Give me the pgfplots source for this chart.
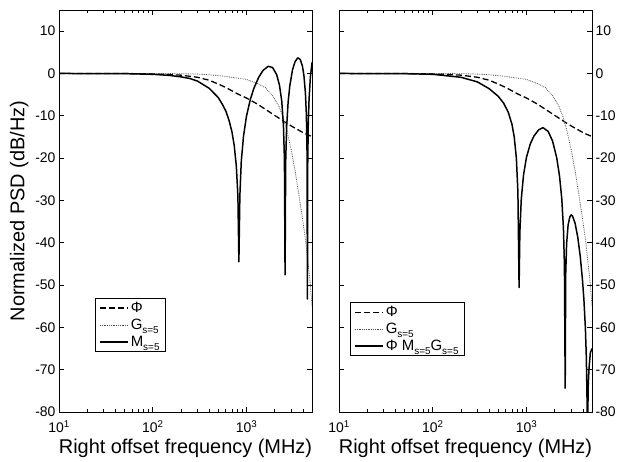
\documentclass[border=0pt]{standalone}
\usepackage{fontspec}
\setmainfont{Liberation Sans}
\usepackage{pgfplots}
\pgfplotsset{compat=1.18}

\tikzset{
  philine/.style={black, line width=1.3pt, dash pattern=on 6bp off 3bp},
  gline/.style={black!70, line width=0.8pt, densely dotted},
  mline/.style={black, line width=1.5pt, line join=round},
}
\pgfplotsset{
  legend image code/.code={\draw[#1] (0bp,0bp) -- (28bp,0bp);},
}
\newcommand{\sub}[1]{\raisebox{-0.5ex}{\fontsize{10}{10}\selectfont #1}}

\begin{document}
\begin{tikzpicture}
  \path (-59bp,-46bp) rectangle (576bp,412bp);

  % left panel
  \begin{axis}[
      xmode=log, xmin=10, xmax=5000, ymin=-80, ymax=15,
      width=253bp, height=402bp, scale only axis,
      xtick={10,100,1000},
      xticklabels={10\textsuperscript{1},10\textsuperscript{2},10\textsuperscript{3}},
      minor xtick={20,30,40,50,60,70,80,90,200,300,400,500,600,700,800,900,2000,3000,4000},
      ytick={-80,-70,-60,-50,-40,-30,-20,-10,0,10},
      yticklabels={-80,-70,-60,-50,-40,-30,-20,-10,0,10},
      tick align=inside, major tick length=5bp, minor tick length=3bp,
      tick style={black, line width=0.6pt},
      axis line style={line width=0.8pt},
      ticklabel style={font=\fontsize{14}{16}\selectfont},
      xticklabel style={yshift=-5bp},
      label style={font=\fontsize{20}{22}\selectfont},
      xlabel={Right offset frequency (MHz)},
      ylabel={Normalized PSD (dB/Hz)},
      legend style={font=\fontsize{15}{17}\selectfont, draw=black, line width=0.8pt,
        inner xsep=4pt, inner ysep=2pt, row sep=1pt,
        at={(0.142,0.284)}, anchor=north west},
      legend cell align=left,
    ]
    \addplot[philine] coordinates {
      (10,0) (50,-0.02) (100,-0.1) (200,-0.4) (300,-0.9) (400,-1.6) (500,-2.5)
      (600,-3.3) (700,-4.1) (800,-4.8) (1000,-5.8) (1300,-7.2) (1650,-8.7)
      (2000,-9.9) (2500,-11.3) (3000,-12.4) (3600,-13.4) (4200,-14.2) (5000,-14.9)
    };
    \addlegendentry{Φ}
    \addplot[gline] coordinates {
      (10,0) (100,-0.01) (200,-0.05) (300,-0.15) (400,-0.3) (550,-0.6) (700,-0.9)
      (1000,-1.4) (1350,-2.5) (1600,-3.4) (1900,-5.3) (2200,-7.6) (2450,-10.2)
      (2700,-13.5) (3000,-18) (3300,-23) (3700,-30) (4000,-35) (4300,-40)
      (4600,-46) (4800,-50) (5000,-55)
    };
    \addlegendentry{G\sub{s=5}}
    \addplot[mline] coordinates {
      (10,0) (50,-0.04) (100,-0.2) (150,-0.45) (200,-0.8) (250,-1.2) (300,-1.8)
      (400,-3.5) (500,-5.7) (550,-7.2) (600,-8.8) (650,-11) (700,-13.8) (740,-17)
      (780,-22) (810,-29) (830,-44.5) (850,-28.9) (880,-20.8) (930,-14.8)
      (1000,-10.1) (1100,-6.1) (1200,-3.5) (1350,-0.9) (1500,0.7) (1705,1.7)
      (1900,1.4) (2100,-0.3) (2250,-2.8) (2380,-6.6) (2480,-12.4) (2540,-20.3)
      (2580,-47.6) (2620,-20.8) (2680,-12.8) (2780,-6.8) (2900,-2.9) (3100,0.9)
      (3300,2.8) (3525,3.7) (3750,3.3) (3950,1.8) (4100,-0.5) (4250,-4.5)
      (4350,-9.5) (4420,-16.9) (4470,-53.3) (4500,-21.8) (4560,-12.2)
      (4650,-6.2) (4800,-1.0) (5000,2.6)
    };
    \addlegendentry{M\sub{s=5}}
  \end{axis}

  % right panel
  \begin{axis}[
      at={(280bp,0bp)},
      xmode=log, xmin=10, xmax=5000, ymin=-80, ymax=15,
      width=253bp, height=402bp, scale only axis,
      xtick={10,100,1000},
      xticklabels={10\textsuperscript{1},10\textsuperscript{2},10\textsuperscript{3}},
      minor xtick={20,30,40,50,60,70,80,90,200,300,400,500,600,700,800,900,2000,3000,4000},
      ytick={-80,-70,-60,-50,-40,-30,-20,-10,0,10},
      yticklabels={-80,-70,-60,-50,-40,-30,-20,-10,0,10},
      yticklabel pos=right,
      tick align=inside, major tick length=5bp, minor tick length=3bp,
      tick style={black, line width=0.6pt},
      axis line style={line width=0.8pt},
      ticklabel style={font=\fontsize{14}{16}\selectfont},
      xticklabel style={yshift=-5bp},
      label style={font=\fontsize{20}{22}\selectfont},
      xlabel={Right offset frequency (MHz)},
      legend style={font=\fontsize{15}{17}\selectfont, draw=black, line width=0.8pt,
        inner xsep=4pt, inner ysep=2pt, row sep=1pt,
        at={(0.043,0.274)}, anchor=north west},
      legend cell align=left,
    ]
    \addplot[philine] coordinates {
      (10,0) (50,-0.02) (100,-0.1) (200,-0.4) (300,-0.9) (400,-1.6) (500,-2.5)
      (600,-3.3) (700,-4.1) (800,-4.8) (1000,-5.8) (1300,-7.2) (1650,-8.7)
      (2000,-9.9) (2500,-11.3) (3000,-12.4) (3600,-13.4) (4200,-14.2) (5000,-14.9)
    };
    \addlegendentry{Φ}
    \addplot[gline] coordinates {
      (10,0) (100,-0.01) (200,-0.05) (300,-0.15) (400,-0.3) (550,-0.6) (700,-0.9)
      (1000,-1.4) (1350,-2.5) (1600,-3.4) (1900,-5.3) (2200,-7.6) (2450,-10.2)
      (2700,-13.5) (3000,-18) (3300,-23) (3700,-30) (4000,-35) (4300,-40)
      (4600,-46) (4800,-50) (5000,-55)
    };
    \addlegendentry{G\sub{s=5}}
    \addplot[mline] coordinates {
      (10,0) (50,-0.05) (100,-0.2) (200,-0.9) (300,-2.0) (400,-3.6) (500,-5.4)
      (570,-7.0) (640,-9.2) (700,-12) (740,-15) (780,-20) (810,-28) (834,-50.6)
      (850,-37.5) (880,-29.7) (930,-24) (1000,-19.8) (1100,-16.6) (1200,-14.8)
      (1350,-13.3) (1500,-12.8) (1705,-13.7) (1900,-16.0) (2100,-19.9)
      (2250,-24.2) (2380,-29.6) (2480,-36.7) (2540,-45.4) (2588,-74.4)
      (2620,-47.5) (2680,-40.2) (2780,-35.8) (2900,-33.9) (3000,-33.4)
      (3100,-33.7) (3300,-35.4) (3525,-38.7) (3750,-43.3) (3950,-48.6)
      (4100,-53.5) (4250,-60.2) (4350,-67.1) (4420,-76) (4470,-95) (4500,-81.8)
      (4560,-73.6) (4650,-69.6) (4800,-66) (5000,-65)
    };
    \addlegendentry{Φ M\sub{s=5}G\sub{s=5}}
  \end{axis}
\end{tikzpicture}
\end{document}
